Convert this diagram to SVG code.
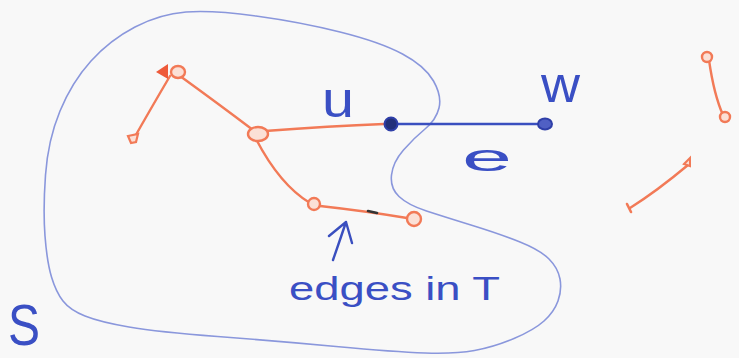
<svg xmlns="http://www.w3.org/2000/svg" width="739" height="358" viewBox="0 0 739 358">
<style>
.bg{fill:#f8f8f8}
.blob{fill:none;stroke:#8a97dc;stroke-width:1.6;stroke-linecap:round}
.te{fill:none;stroke:#f27a57;stroke-width:2.4;stroke-linecap:round;stroke-linejoin:round}
.tn{fill:#fbe0d6;stroke:#f27a57;stroke-width:2.4}
.be{fill:none;stroke:#3a4fbf;stroke-width:2.4;stroke-linecap:round;stroke-linejoin:round}
.lbl{font-family:"Liberation Sans",Arial,sans-serif;fill:#3a4fc4}
</style>
<rect class="bg" x="0" y="0" width="739" height="358"/>
<g id="set-S">
<path class="blob" d="M45,236 Q43,210 45.5,175 Q48,140 60,111 Q72,82 91,61 Q110,40 135,27 Q160,14 186,12 Q212,10 256,16 Q300,22 340,32 Q380,42 402.5,54 Q425,66 433.5,81 Q442,96 439,108 Q436,120 425,129 Q414,138 403.5,150 Q393,162 391.5,175 Q390,188 399,196.5 Q408,205 426.5,211 Q445,217 472.5,225.5 Q500,234 520,242 Q540,250 549,259 Q558,268 560,279 Q562,290 558,301 Q554,312 544,321 Q534,330 514,338.5 Q494,347 474.5,350.5 Q455,354 425,353 Q395,352 336,346.5 Q277,341 217.5,336.5 Q158,332 129,327 Q100,322 85,316 Q70,310 63,301 Q56,292 51.5,277 Q47,262 45,236 Z"/>
<text class="lbl" x="8" y="345" font-size="58" textLength="32" lengthAdjust="spacingAndGlyphs">S</text>
</g>
<g id="connectors">
<path class="te" d="M170,76 Q150,110 133,140"/>
<path class="te" d="M180,76 Q220,105 253,130"/>
<path class="te" d="M265,131 Q330,126 384,124"/>
<path class="te" d="M256,139 Q280,185 310,203"/>
<path class="te" d="M320,206 Q365,211 407,218"/>
<path d="M368,211 L377,213" stroke="#333" stroke-width="2.6" stroke-linecap="round"/>
<path class="be" d="M396,124 L540,124"/>
<path class="te" d="M709,60 Q714,95 723,115"/>
<path class="te" d="M688,165 Q657,191 630,208"/>
<path class="be" d="M333,260 Q340,240 346,222 M329,236 L346,222 L352,243"/>
</g>
<g id="node-a"><path d="M156,72 L168,64 L168,79 Z" fill="#ee5a3a"/><ellipse class="tn" cx="178" cy="72" rx="7" ry="6"/></g>
<g id="node-b"><path d="M128,136 L138,134 L136,142 L131,143 Z" fill="#fbe0d6" stroke="#f27a57" stroke-width="2.2"/></g>
<g id="node-c"><ellipse class="tn" cx="258" cy="134" rx="10" ry="7"/></g>
<g id="node-d"><ellipse class="tn" cx="314" cy="204" rx="6" ry="6"/></g>
<g id="node-e"><ellipse class="tn" cx="414" cy="219" rx="7" ry="7"/></g>
<g id="node-u"><circle cx="391" cy="124" r="6.5" fill="#23307a" stroke="#2f3fa8" stroke-width="2"/><text class="lbl" x="322" y="117" font-size="50" textLength="32" lengthAdjust="spacingAndGlyphs">u</text></g>
<g id="node-w"><ellipse cx="545" cy="124" rx="7" ry="5.5" fill="#5060c4" stroke="#2f3fa8" stroke-width="2"/><text class="lbl" x="541" y="102" font-size="50" textLength="39" lengthAdjust="spacingAndGlyphs">w</text></g>
<g id="label-e"><text class="lbl" x="462" y="171" font-size="38" textLength="50" lengthAdjust="spacingAndGlyphs">e</text></g>
<g id="node-r1"><circle class="tn" cx="707" cy="57" r="5"/></g>
<g id="node-r2"><circle class="tn" cx="725" cy="117" r="5"/></g>
<g id="node-r3"><path d="M684,164 L690,158 L690,166 Z" fill="#fbe0d6" stroke="#f27a57" stroke-width="2"/></g>
<g id="node-r4"><path d="M627,204 L631,212" stroke="#f27a57" stroke-width="2.6" stroke-linecap="round"/></g>
<g id="label-edges"><text class="lbl" x="289" y="300" font-size="34" textLength="211" lengthAdjust="spacingAndGlyphs">edges in T</text></g>
</svg>
